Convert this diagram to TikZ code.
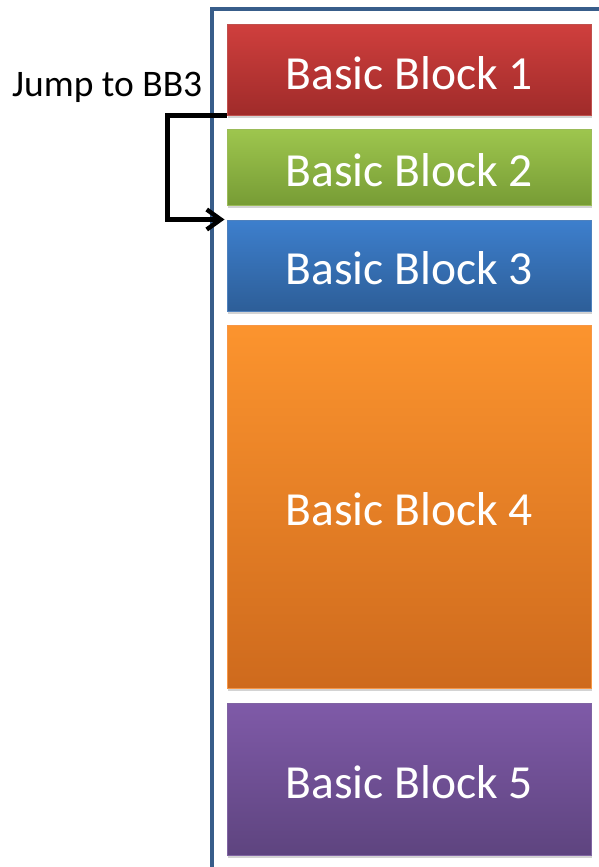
\documentclass[tikz,border=0pt]{standalone}
\usepackage{fontspec}
\setmainfont{Carlito}
\usetikzlibrary{arrows.meta,shadows,calc}

% Office theme palette
\definecolor{memline}{HTML}{385D8A}
\definecolor{redA}{HTML}{CF3F3D}\definecolor{redB}{HTML}{A02B2A}\definecolor{redE}{HTML}{C0504D}
\definecolor{grnA}{HTML}{9EC64E}\definecolor{grnB}{HTML}{779C35}\definecolor{grnE}{HTML}{9BBB59}
\definecolor{bluA}{HTML}{3D7FCD}\definecolor{bluB}{HTML}{2D5E98}\definecolor{bluE}{HTML}{4F81BD}
\definecolor{ornA}{HTML}{FC942E}\definecolor{ornB}{HTML}{CE6A1D}\definecolor{ornE}{HTML}{F79646}
\definecolor{purA}{HTML}{7F5AA8}\definecolor{purB}{HTML}{5E447F}\definecolor{purE}{HTML}{8064A2}

\newcommand{\blocktext}[1]{\raisebox{-3pt}[\height][\depth]{#1}}

\tikzset{
  bblock/.style n args={3}{
    rectangle, minimum width=364pt, inner sep=0pt,
    top color=#1, bottom color=#2, draw=#3, line width=1pt,
    text=white, font=\fontsize{47.5}{50}\selectfont,
    drop shadow={opacity=0.35, shadow xshift=1pt, shadow yshift=-3pt}
  },
  jumparrow/.style={line width=4.4pt, -{Straight Barb[length=14pt,width=20pt]}}
}

\begin{document}
\begin{tikzpicture}[x=1pt,y=-1pt]
  \useasboundingbox (0,0) rectangle (599,867);
  \clip (0,0) rectangle (599,867);

  % memory region outline (open to the right and bottom)
  \draw[memline, line width=4.5pt] (212,880) -- (212,9) -- (620,9);

  \node[bblock={redA}{redB}{redE}, minimum height=90pt]  (b1) at (409,70)    {\blocktext{Basic Block 1}};
  \node[bblock={grnA}{grnB}{grnE}, minimum height=76pt]  (b2) at (409,167)   {\blocktext{Basic Block 2}};
  \node[bblock={bluA}{bluB}{bluE}, minimum height=91pt]  (b3) at (409,265.5) {\blocktext{Basic Block 3}};
  \node[bblock={ornA}{ornB}{ornE}, minimum height=363pt] (b4) at (409,506.5) {\blocktext{Basic Block 4}};
  \node[bblock={purA}{purB}{purE}, minimum height=152pt] (b5) at (409,779)   {\blocktext{Basic Block 5}};

  \node[anchor=base west, inner sep=0pt, font=\fontsize{37.5}{40}\selectfont] (lbl) at (12,96) {Jump to BB3};

  \coordinate (bend) at ($(b1.south west)+(-59,0)$);
  \draw[jumparrow] (b1.south west) -- (bend) |- ([xshift=-2pt]b3.north west);
\end{tikzpicture}
\end{document}
